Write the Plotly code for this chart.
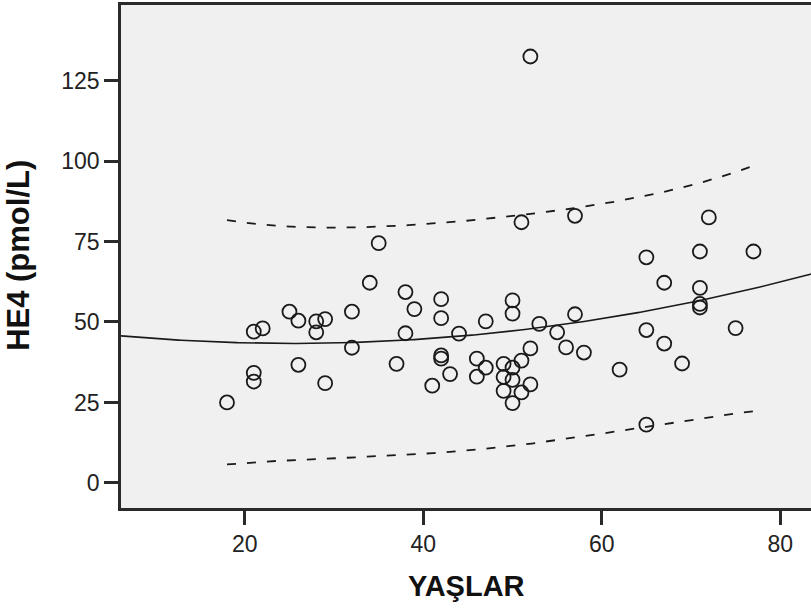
import numpy as np
import plotly.graph_objects as go

# Age (YAŞLAR) and HE4 (pmol/L) for each patient
age = [18, 21, 22, 21, 21, 25, 26, 26, 28, 29, 28, 29, 32, 32, 34, 35, 37, 38, 38, 39,
       41, 42, 42, 42, 42, 43, 44, 46, 46, 47, 47, 49, 49, 49, 50, 50, 50, 50, 50, 51,
       51, 51, 52, 52, 52, 53, 55, 56, 57, 57, 58, 62, 65, 65, 65, 67, 67, 69, 71, 71,
       71, 71, 72, 75, 77]
he4 = [25.0, 47.0, 48.0, 34.2, 31.5, 53.2, 50.4, 36.7, 50.2, 50.9, 46.8, 31.0, 53.2, 42.0, 62.2, 74.5, 37.0, 59.3, 46.5, 54.0,
       30.2, 57.1, 51.2, 39.6, 38.6, 33.8, 46.4, 38.6, 33.0, 50.2, 35.8, 37.0, 32.9, 28.6, 56.7, 52.6, 35.8, 32.0, 24.8, 38.0,
       28.1, 81.0, 41.8, 30.6, 132.5, 49.4, 46.8, 42.1, 52.4, 83.0, 40.5, 35.2, 70.1, 47.5, 18.1, 62.2, 43.3, 37.1, 71.9, 60.6,
       55.6, 54.5, 82.5, 48.1, 71.9]

x_ticks = [20, 40, 60, 80]
y_ticks = [0, 25, 50, 75, 100, 125]
x_range = [6.12, 83.45]
y_range = [-7.8, 148.5]

# Quadratic regression with 95% individual prediction interval
x = np.array(age, dtype=float)
y = np.array(he4, dtype=float)
X = np.column_stack([np.ones_like(x), x, x ** 2])
beta, *_ = np.linalg.lstsq(X, y, rcond=None)
resid = y - X @ beta
dof = len(x) - X.shape[1]
s = np.sqrt(resid @ resid / dof)
XtX_inv = np.linalg.inv(X.T @ X)
t_crit = 1.999  # t(0.975, 62)

def design(v):
    return np.column_stack([np.ones_like(v), v, v ** 2])

x_fit = np.linspace(x_range[0], x_range[1], 300)
y_fit = design(x_fit) @ beta

x_pi = np.linspace(x.min(), x.max(), 300)
D = design(x_pi)
y_pi = D @ beta
se_pred = s * np.sqrt(1 + np.einsum("ij,jk,ik->i", D, XtX_inv, D))
upper = y_pi + t_crit * se_pred
lower = y_pi - t_crit * se_pred

ink = "#1a1a1a"
fig = go.Figure()
fig.add_trace(go.Scatter(x=x_fit, y=y_fit, mode="lines",
                         line=dict(color=ink, width=1.6), hoverinfo="skip"))
for band in (upper, lower):
    fig.add_trace(go.Scatter(x=x_pi, y=band, mode="lines",
                             line=dict(color=ink, width=1.8, dash="9px,11px"),
                             hoverinfo="skip"))
fig.add_trace(go.Scatter(x=age, y=he4, mode="markers",
                         marker=dict(symbol="circle-open", size=14, color=ink,
                                     line=dict(color=ink, width=1.8))))

axis_font = dict(family="Liberation Sans, Arial, sans-serif", size=23, color="#222222")
fig.update_layout(
    width=811, height=616,
    margin=dict(l=121, r=0, t=5, b=108),
    paper_bgcolor="white",
    plot_bgcolor="#F0F0F0",
    showlegend=False,
    xaxis=dict(range=x_range, tickvals=x_ticks, ticks="outside", ticklen=14, tickwidth=2.5,
               tickcolor="#2a2a2a", showline=True, linecolor="#2a2a2a", linewidth=2.5,
               mirror=True, showgrid=False, zeroline=False, tickfont=axis_font),
    yaxis=dict(range=y_range, tickvals=y_ticks, ticks="outside", ticklen=14, tickwidth=2.5,
               tickcolor="#2a2a2a", showline=True, linecolor="#2a2a2a", linewidth=2.5,
               mirror=False, showgrid=False, zeroline=False, tickfont=axis_font),
    annotations=[
        dict(text="<b>YAŞLAR</b>", xref="paper", yref="paper", x=0.5, y=-0.155,
             xanchor="center", yanchor="middle", showarrow=False,
             font=dict(family="Liberation Sans, Arial, sans-serif", size=29, color="#111111")),
        dict(text="<b>HE4 (pmol/L)</b>", xref="paper", yref="paper", x=-0.148, y=0.503,
             xanchor="center", yanchor="middle", textangle=-90, showarrow=False,
             font=dict(family="Liberation Sans, Arial, sans-serif", size=31, color="#111111")),
    ],
)

fig.write_html("out.html")
